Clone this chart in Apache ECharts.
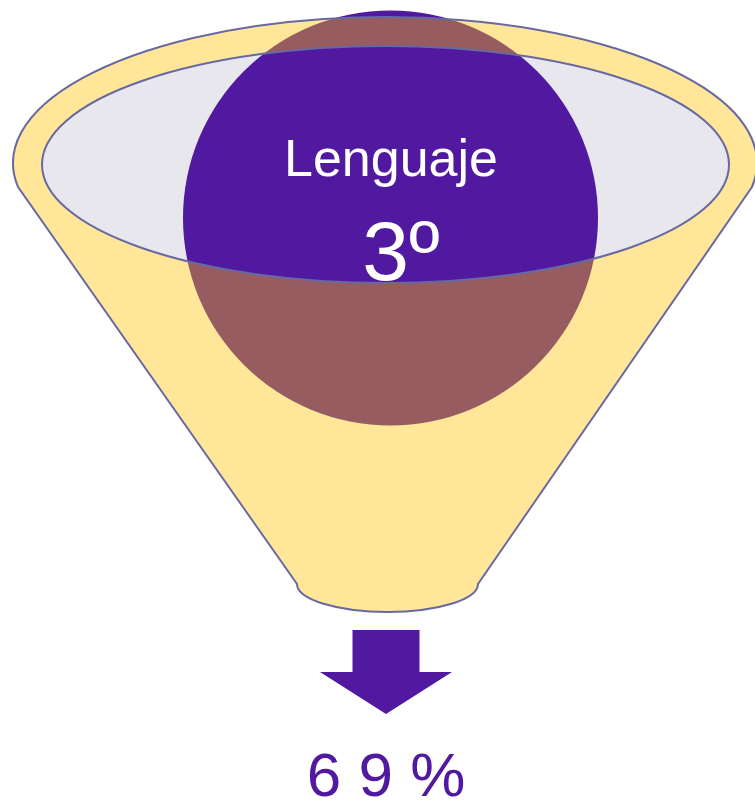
<!DOCTYPE html>
<html>
<head>
<meta charset="utf-8">
<title>Lenguaje 3º</title>
<script src="https://cdn.jsdelivr.net/npm/echarts@6/dist/echarts.min.js"></script>
<style>
  html, body { margin: 0; padding: 0; background: #ffffff; }
  #chart { width: 755px; height: 801px; }
</style>
</head>
<body>
<div id="chart"></div>
<script>
// Funnel content
const subjects = ['Lenguaje'];
const grades = ['3º'];
const percents = [69];

// Colours (SmartArt style)
const purple = '#5019a0';
const outline = '#6868a2';
const rimGrey = '#e8e7ed';
const gold = 'rgba(255, 192, 0, 0.4)'; // pale yellow on white, brown over purple

// Geometry of the funnel shape
const rim = { cx: 385, cy: 163, rx: 372, ry: 146 };
const mouth = { cx: 385.5, cy: 164.5, rx: 343.5, ry: 118.5 };
const spout = { cx: 387.5, cy: 584, rx: 90.5, ry: 28 };
const shoulderY = 187;
const ball = { cx: 390.5, cy: 218, r: 207.5 };
const arrow = { cx: 386, top: 630, shaftW: 67, neck: 672, headW: 132, tip: 714 };

const chart = echarts.init(document.getElementById('chart'));

// x where the rim ellipse meets the straight sides
const dy = (shoulderY - rim.cy) / rim.ry;
const half = rim.rx * Math.sqrt(1 - dy * dy);
const sL = rim.cx - half;
const sR = rim.cx + half;

// outer outline clockwise, mouth counter-clockwise so it becomes a hole
const funnelPath = [
  `M ${sL} ${shoulderY}`,
  `A ${rim.rx} ${rim.ry} 0 1 1 ${sR} ${shoulderY}`,
  `L ${spout.cx + spout.rx} ${spout.cy}`,
  `A ${spout.rx} ${spout.ry} 0 0 1 ${spout.cx - spout.rx} ${spout.cy}`,
  'Z',
  `M ${mouth.cx - mouth.rx} ${mouth.cy}`,
  `A ${mouth.rx} ${mouth.ry} 0 1 0 ${mouth.cx + mouth.rx} ${mouth.cy}`,
  `A ${mouth.rx} ${mouth.ry} 0 1 0 ${mouth.cx - mouth.rx} ${mouth.cy}`,
  'Z'
].join(' ');

const arrowPoints = [
  [arrow.cx - arrow.shaftW / 2, arrow.top],
  [arrow.cx + arrow.shaftW / 2, arrow.top],
  [arrow.cx + arrow.shaftW / 2, arrow.neck],
  [arrow.cx + arrow.headW / 2, arrow.neck],
  [arrow.cx, arrow.tip],
  [arrow.cx - arrow.headW / 2, arrow.neck],
  [arrow.cx - arrow.shaftW / 2, arrow.neck]
];

const fontFamily = '"Liberation Sans", Arial, sans-serif';

function renderFunnel(params) {
  const i = params.dataIndex;
  const percentText = String(percents[i]).split('').join(' ') + ' %';
  return {
    type: 'group',
    children: [
      {
        type: 'ellipse',
        shape: { cx: mouth.cx, cy: mouth.cy, rx: mouth.rx, ry: mouth.ry },
        style: { fill: rimGrey }
      },
      {
        type: 'circle',
        shape: { cx: ball.cx, cy: ball.cy, r: ball.r },
        style: { fill: purple }
      },
      {
        type: 'path',
        shape: { pathData: funnelPath },
        style: { fill: gold, stroke: outline, lineWidth: 2 }
      },
      {
        type: 'text',
        style: {
          text: subjects[i],
          x: 391,
          y: 162,
          fill: '#ffffff',
          font: `52px ${fontFamily}`,
          align: 'center',
          verticalAlign: 'middle'
        }
      },
      {
        type: 'text',
        style: {
          text: grades[i],
          x: 401,
          y: 257,
          fill: '#ffffff',
          font: `84px ${fontFamily}`,
          align: 'center',
          verticalAlign: 'middle'
        }
      },
      {
        type: 'polygon',
        shape: { points: arrowPoints },
        style: { fill: purple }
      },
      {
        type: 'text',
        style: {
          text: percentText,
          x: 386,
          y: 779,
          fill: purple,
          font: `62px ${fontFamily}`,
          align: 'center',
          verticalAlign: 'middle'
        }
      }
    ]
  };
}

const option = {
  animation: false,
  series: [
    {
      type: 'custom',
      coordinateSystem: 'none',
      silent: true,
      renderItem: renderFunnel,
      data: percents
    }
  ]
};

chart.setOption(option);

window.addEventListener('resize', () => chart.resize());
</script>
</body>
</html>
